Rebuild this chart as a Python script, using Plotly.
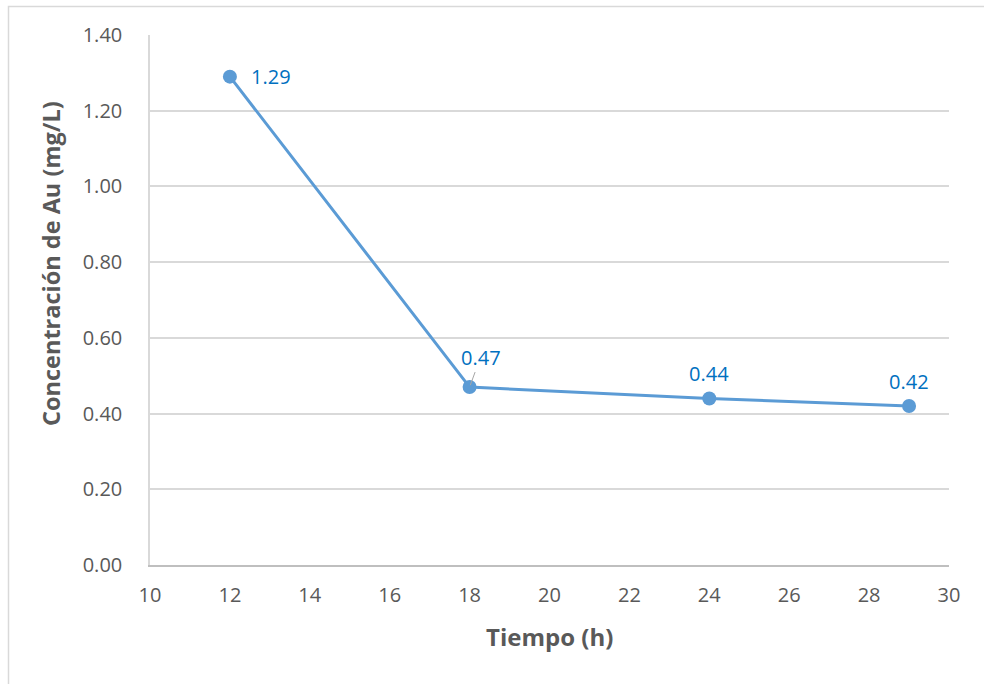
import plotly.graph_objects as go

# Tiempo (h) vs concentración de oro
tiempo = [12, 18, 24, 29]
concentracion = [1.29, 0.47, 0.44, 0.42]
etiquetas = ["1.29", "0.47", "0.44", "0.42"]

x_ticks = [10, 12, 14, 16, 18, 20, 22, 24, 26, 28, 30]
y_ticks = [0.0, 0.2, 0.4, 0.6, 0.8, 1.0, 1.2, 1.4]

LINE = "#5B9BD5"
LABEL = "#0070C0"
TICK = "#595959"
FONT = "Open Sans, Noto Sans, sans-serif"

# plot area geometry (px)
L, R, T, B = 150, 35, 35, 119
PW, PH = 984 - L - R, 684 - T - B

fig = go.Figure()
fig.add_trace(go.Scatter(
    x=tiempo, y=concentracion, mode="lines+markers",
    line=dict(color=LINE, width=3),
    marker=dict(color=LINE, size=14),
    showlegend=False, hoverinfo="skip",
))

# data labels: first one to the right, the rest above the point
for i, (xv, yv, txt) in enumerate(zip(tiempo, concentracion, etiquetas)):
    if i == 0:
        fig.add_annotation(x=xv, y=yv, text=txt, showarrow=False,
                           xanchor="left", xshift=19, yshift=0,
                           font=dict(color=LABEL, size=20, family=FONT))
    elif i == 1:
        fig.add_annotation(x=xv, y=yv, text=txt, showarrow=True,
                           arrowhead=0, arrowwidth=1, arrowcolor="#a6a6a6",
                           ax=11, ay=-30, standoff=2,
                           font=dict(color=LABEL, size=20, family=FONT))
    else:
        fig.add_annotation(x=xv, y=yv, text=txt, showarrow=False,
                           yanchor="bottom", yshift=9,
                           font=dict(color=LABEL, size=20, family=FONT))

# axis titles
fig.add_annotation(xref="paper", yref="paper", x=0.5, y=-(636 - (T + PH)) / PH,
                   text="<b>Tiempo (h)</b>", showarrow=False,
                   xanchor="center", yanchor="middle",
                   font=dict(size=24, color=TICK, family=FONT))
fig.add_annotation(xref="paper", yref="paper", x=(51 - L) / PW, y=(T + PH - 264) / PH,
                   text="<b>Concentración de Au (mg/L)</b>", showarrow=False,
                   textangle=-90, xanchor="center", yanchor="middle",
                   font=dict(size=23.5, color=TICK, family=FONT))

# chart frame
fig.add_shape(type="rect", xref="paper", yref="paper",
              x0=(8.5 - L) / PW, x1=1.05, y0=-0.4, y1=(T + PH - 6.5) / PH,
              line=dict(color="#d9d9d9", width=1.5), layer="below")

fig.update_layout(
    width=984, height=684,
    margin=dict(l=L, r=R, t=T, b=B),
    paper_bgcolor="white", plot_bgcolor="white",
    font=dict(family=FONT, color=TICK, size=20),
    xaxis=dict(
        range=[10, 30], tickvals=x_ticks, ticktext=[str(v) for v in x_ticks],
        showgrid=False, zeroline=False,
        showline=True, linecolor="#bfbfbf", linewidth=1.5,
        ticks="", ticklabelstandoff=11, tickfont=dict(size=20),
    ),
    yaxis=dict(
        range=[0, 1.4], tickvals=y_ticks, ticktext=[f"{v:.2f}" for v in y_ticks],
        showgrid=True, gridcolor="#d9d9d9", gridwidth=1.5, zeroline=False,
        showline=True, linecolor="#d9d9d9", linewidth=1.5,
        ticks="", ticklabelstandoff=22, tickfont=dict(size=20),
    ),
)

fig.write_html("out.html")
